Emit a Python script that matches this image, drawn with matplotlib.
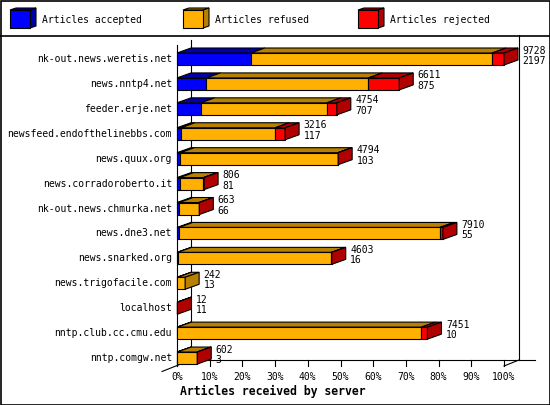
import numpy as np
import matplotlib
matplotlib.use("Agg")
from matplotlib import pyplot as plt
from matplotlib.patches import Polygon, Rectangle

plt.rcParams['font.family'] = ['DejaVu Sans Mono', 'DejaVu Sans']

# 每台服务器的文章数
servers = ['nk-out.news.weretis.net', 'news.nntp4.net', 'feeder.erje.net',
           'newsfeed.endofthelinebbs.com', 'news.quux.org', 'news.corradoroberto.it',
           'nk-out.news.chmurka.net', 'news.dne3.net', 'news.snarked.org',
           'news.trigofacile.com', 'localhost', 'nntp.club.cc.cmu.edu', 'nntp.comgw.net']
totals = [9728, 6611, 4754, 3216, 4794, 806, 663, 7910, 4603, 242, 12, 7451, 602]
accepted = [2197, 875, 707, 117, 103, 81, 66, 55, 16, 13, 11, 10, 3]
refused = [7176, 4816, 3750, 2802, 4686, 705, 592, 7765, 4577, 229, 0, 7261, 597]
rejected = [355, 920, 297, 297, 5, 20, 5, 90, 10, 0, 1, 180, 2]

series_names = ['Articles accepted', 'Articles refused', 'Articles rejected']
face_colors = ['#0000FF', '#FFB000', '#FF0000']
dark_colors = ['#0000A8', '#B88000', '#B00000']
tick_values = [0, 10, 20, 30, 40, 50, 60, 70, 80, 90, 100]
tick_labels = ['0%', '10%', '20%', '30%', '40%', '50%', '60%', '70%', '80%', '90%', '100%']
x_title = 'Articles received by server'

W, H = 550, 405
fig = plt.figure(figsize=(W / 100, H / 100), dpi=100)

# 背景层：像素坐标，画边框、图例和三维的墙
bg = fig.add_axes([0, 0, 1, 1])
bg.set_xlim(0, W)
bg.set_ylim(H, 0)
bg.axis('off')

lw = 0.8
# 外框和图例分隔线
bg.add_patch(Rectangle((0.5, 0.5), W - 1, H - 1, fill=False, ec='black', lw=1.2))
bg.plot([0, W], [35.5, 35.5], color='black', lw=1.2)

# 坐标墙
bg.plot([177, 177], [45, 366], color='black', lw=lw)
bg.plot([191, 191], [40, 360], color='black', lw=lw)
bg.plot([519, 519], [35, 360], color='black', lw=lw)
bg.plot([191, 535], [360, 360], color='black', lw=lw)
bg.plot([162, 191], [371.5, 360], color='black', lw=lw)
bg.plot([504, 519], [366, 360], color='black', lw=lw)

# 图例（小立方体）
legend_x = [10, 183, 358]
for x0, name, fc, dc in zip(legend_x, series_names, face_colors, dark_colors):
    y0, w, h, ddx, ddy = 10, 20, 18, 6, -2
    bg.add_patch(Polygon([(x0, y0), (x0 + w, y0), (x0 + w + ddx, y0 + ddy), (x0 + ddx, y0 + ddy)],
                         closed=True, fc=dc, ec='black', lw=lw))
    bg.add_patch(Polygon([(x0 + w, y0), (x0 + w + ddx, y0 + ddy), (x0 + w + ddx, y0 + h + ddy), (x0 + w, y0 + h)],
                         closed=True, fc=dc, ec='black', lw=lw))
    bg.add_patch(Rectangle((x0, y0), w, h, fc=fc, ec='black', lw=lw))
    bg.text(x0 + 32, 20, name, fontsize=7, ha='left', va='center')

# 数据层：x 为百分比，y 为服务器序号
left_px, right_px, top_px, floor_px = 177, 504, 40, 366
row_px = 24.92
first_px = 59
ax = fig.add_axes([left_px / W, 1 - floor_px / H, (right_px - left_px) / W, (floor_px - top_px) / H])
ax.set_xlim(0, 100)
ax.set_ylim((floor_px - first_px) / row_px, (top_px - first_px) / row_px)
ax.axis('off')
ax.patch.set_alpha(0)

px_x = 100 / (right_px - left_px)
px_y = 1 / row_px
dx = 14 * px_x
dy = -5 * px_y
bar_h = 12 * px_y
y_floor = (floor_px - first_px) / row_px

vmax = max(totals)
for i, name in enumerate(servers):
    y0 = i - bar_h / 2
    y1 = i + bar_h / 2
    left = 0.0
    last = 0
    for k, vals in enumerate([accepted, refused, rejected]):
        w = vals[i] / vmax * 100
        if vals[i] <= 0:
            continue
        ax.add_patch(Polygon([(left, y0), (left + w, y0), (left + w + dx, y0 + dy), (left + dx, y0 + dy)],
                             closed=True, fc=dark_colors[k], ec='black', lw=lw, clip_on=False))
        ax.add_patch(Rectangle((left, y0), w, bar_h, fc=face_colors[k], ec='black', lw=lw, clip_on=False))
        left += w
        last = k
    end = totals[i] / vmax * 100
    ax.add_patch(Polygon([(end, y0), (end + dx, y0 + dy), (end + dx, y1 + dy), (end, y1)],
                         closed=True, fc=dark_colors[last], ec='black', lw=lw, clip_on=False))

    # 右边的数字：总数和接收数
    tx = end + dx + 4.5 * px_x
    ax.text(tx, i - 8.5 * px_y, str(totals[i]), fontsize=7, ha='left', va='center', clip_on=False)
    ax.text(tx, i + 2 * px_y, str(accepted[i]), fontsize=7, ha='left', va='center', clip_on=False)

    # 左边的服务器名
    ax.text(-5 * px_x, i, name, fontsize=7, ha='right', va='center', clip_on=False)

# x 方向刻度
for t, lab in zip(tick_values, tick_labels):
    ax.plot([t, t], [y_floor, y_floor - 6 * px_y], color='black', lw=lw, clip_on=False)
    ax.text(t, y_floor + 11.5 * px_y, lab, fontsize=7, ha='center', va='center', clip_on=False)

ax.text(3 * px_x, y_floor + 25.5 * px_y, x_title, fontsize=8.3, fontweight='bold',
        ha='left', va='center', clip_on=False)

fig.savefig('out.png', dpi=100)
